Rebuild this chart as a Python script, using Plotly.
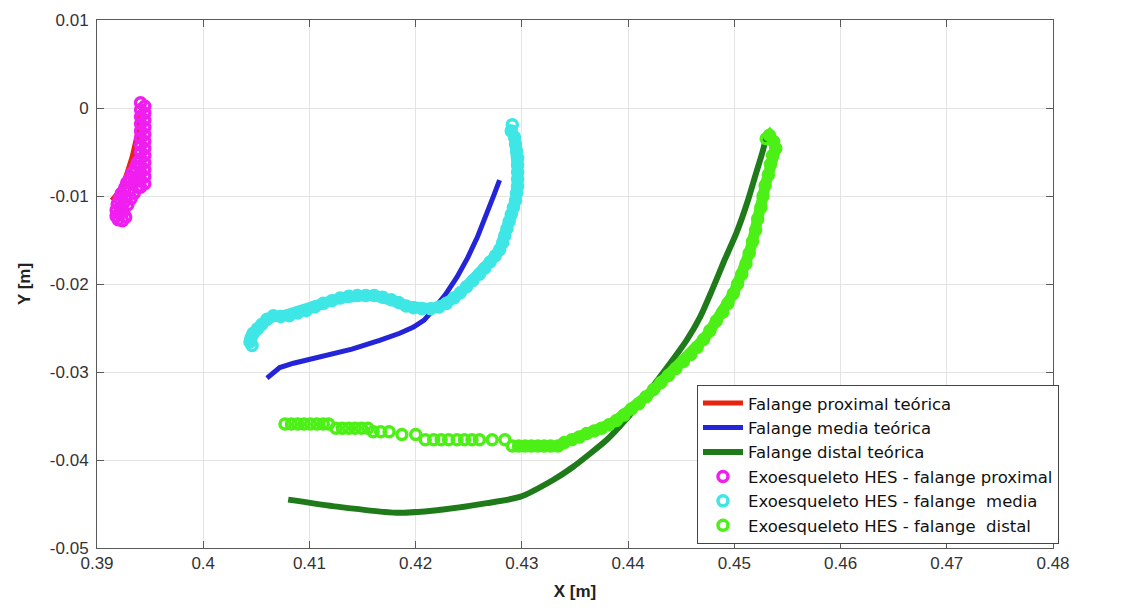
import plotly.graph_objects as go

# ---------------- datos ----------------
# Falange proximal teorica (linea roja)
prox_teo_x = [0.3914, 0.3924, 0.3933, 0.3938, 0.3941]
prox_teo_y = [-0.0105, -0.0090, -0.0056, -0.0030, -0.0003]

# Falange media teorica (linea azul)
media_teo_x = [0.4060, 0.4072, 0.4085, 0.4100, 0.4119, 0.4140, 0.4166, 0.4185, 0.4198,
               0.4208, 0.4216, 0.4228, 0.4239, 0.4249, 0.4258, 0.4266, 0.4273, 0.4279]
media_teo_y = [-0.0307, -0.0295, -0.0290, -0.0286, -0.0281, -0.0274, -0.0264, -0.0256, -0.0249,
               -0.0241, -0.0230, -0.0212, -0.0192, -0.0170, -0.0147, -0.0124, -0.0101, -0.0082]

# Falange distal teorica (linea verde oscuro)
distal_teo_x = [0.4080, 0.4126, 0.4182, 0.4220, 0.4267, 0.4298, 0.4329, 0.4348, 0.4380, 0.4392,
                0.4411, 0.4442, 0.4455, 0.4468, 0.4479, 0.4490, 0.4502, 0.4512, 0.4520, 0.4527,
                0.4531]
distal_teo_y = [-0.0445, -0.0453, -0.0460, -0.0457, -0.0449, -0.0442, -0.0423, -0.0408, -0.0377, -0.0362,
                -0.0335, -0.0286, -0.0264, -0.0237, -0.0207, -0.0175, -0.0142, -0.0108, -0.0076, -0.0048,
                -0.0028]

# Exoesqueleto HES - falange proximal (magenta)
hes_prox_x = [0.3941, 0.3945, 0.3941, 0.3945, 0.3941, 0.3945, 0.3941, 0.3945, 0.3941, 0.3945,
              0.3941, 0.3945, 0.3941, 0.3945, 0.3941, 0.3945, 0.3941, 0.3945, 0.3941, 0.3945,
              0.3941, 0.3945, 0.3941, 0.3945, 0.3941,
              0.3938, 0.3936, 0.3933, 0.3937, 0.3931, 0.3928, 0.3934, 0.3938, 0.3926, 0.3930,
              0.3935, 0.3923, 0.3927, 0.3932, 0.3921, 0.3925, 0.3919, 0.3923, 0.3918, 0.3921,
              0.3918, 0.3920, 0.3924, 0.3927, 0.3925, 0.3929]
hes_prox_y = [0.0006, 0.0002, -0.0002, -0.0006, -0.0010, -0.0014, -0.0018, -0.0022, -0.0026, -0.0030,
              -0.0034, -0.0038, -0.0042, -0.0046, -0.0050, -0.0054, -0.0058, -0.0062, -0.0066, -0.0070,
              -0.0074, -0.0078, -0.0082, -0.0086, -0.0090,
              -0.0062, -0.0068, -0.0074, -0.0078, -0.0080, -0.0085, -0.0086, -0.0090, -0.0091, -0.0094,
              -0.0097, -0.0097, -0.0101, -0.0103, -0.0103, -0.0108, -0.0109, -0.0114, -0.0116, -0.0120,
              -0.0123, -0.0127, -0.0128, -0.0124, -0.0118, -0.0110]

# Exoesqueleto HES - falange media (cian)
hes_media_x = [0.4291, 0.4290, 0.4293, 0.4294, 0.4295, 0.4296, 0.4296, 0.4296, 0.4296, 0.4296,
               0.4295, 0.4294, 0.4292, 0.4290, 0.4288, 0.4286, 0.4284, 0.4282, 0.4279, 0.4275,
               0.4270, 0.4265, 0.4260, 0.4254, 0.4248, 0.4242, 0.4236, 0.4229, 0.4222, 0.4214,
               0.4206, 0.4198, 0.4191, 0.4184, 0.4177, 0.4169, 0.4161, 0.4153, 0.4145, 0.4137,
               0.4129, 0.4121, 0.4113, 0.4105, 0.4097, 0.4089, 0.4081, 0.4073, 0.4066, 0.4060,
               0.4055, 0.4051, 0.4047, 0.4045, 0.4044, 0.4046]
hes_media_y = [-0.0019, -0.0026, -0.0033, -0.0041, -0.0049, -0.0057, -0.0065, -0.0073, -0.0081, -0.0089,
               -0.0097, -0.0105, -0.0113, -0.0121, -0.0129, -0.0137, -0.0145, -0.0153, -0.0161, -0.0168,
               -0.0175, -0.0182, -0.0189, -0.0196, -0.0203, -0.0210, -0.0216, -0.0222, -0.0226, -0.0228,
               -0.0228, -0.0227, -0.0225, -0.0221, -0.0218, -0.0215, -0.0213, -0.0213, -0.0213, -0.0214,
               -0.0216, -0.0219, -0.0222, -0.0226, -0.0230, -0.0233, -0.0236, -0.0237, -0.0236, -0.0240,
               -0.0246, -0.0251, -0.0256, -0.0261, -0.0266, -0.0270]

# Exoesqueleto HES - falange distal (verde claro): tramo horizontal con huecos + tramo continuo
hes_dist_x = [0.4077, 0.4083, 0.4089, 0.4095, 0.4101, 0.4107, 0.4113, 0.4118,
              0.4125, 0.4131, 0.4137, 0.4143, 0.4149, 0.4155,
              0.4160, 0.4167, 0.4175,
              0.4187, 0.4200,
              0.4209, 0.4217, 0.4224, 0.4231, 0.4239, 0.4246, 0.4253, 0.4260,
              0.4272, 0.4284,
              0.4291, 0.4297, 0.4303, 0.4309, 0.4315, 0.4321, 0.4327, 0.4334,
              0.4340, 0.4347, 0.4354, 0.4361, 0.4368, 0.4375, 0.4382, 0.4389, 0.4396, 0.4403,
              0.4410, 0.4417, 0.4424, 0.4431, 0.4438, 0.4445, 0.4452, 0.4459, 0.4465, 0.4471,
              0.4477, 0.4483, 0.4489, 0.4494, 0.4499, 0.4503, 0.4507, 0.4511, 0.4514, 0.4517,
              0.4520, 0.4522, 0.4525, 0.4527, 0.4529, 0.4532, 0.4534, 0.4536, 0.4539, 0.4537,
              0.4533, 0.4530]
hes_dist_y = [-0.0359, -0.0359, -0.0359, -0.0359, -0.0359, -0.0359, -0.0359, -0.0359,
              -0.0364, -0.0364, -0.0364, -0.0364, -0.0364, -0.0364,
              -0.0368, -0.0368, -0.0368,
              -0.0371, -0.0371,
              -0.0377, -0.0377, -0.0377, -0.0377, -0.0377, -0.0377, -0.0377, -0.0377,
              -0.0377, -0.0377,
              -0.0384, -0.0384, -0.0384, -0.0384, -0.0384, -0.0384, -0.0384, -0.0384,
              -0.0380, -0.0377, -0.0374, -0.0370, -0.0367, -0.0364, -0.0360, -0.0355, -0.0349, -0.0342,
              -0.0336, -0.0328, -0.0320, -0.0312, -0.0304, -0.0296, -0.0288, -0.0280, -0.0272, -0.0263,
              -0.0253, -0.0242, -0.0232, -0.0222, -0.0211, -0.0200, -0.0189, -0.0177, -0.0165, -0.0152,
              -0.0139, -0.0126, -0.0113, -0.0100, -0.0088, -0.0076, -0.0064, -0.0054, -0.0046, -0.0038,
              -0.0031, -0.0035]
DIST_BAND_START = 29  # desde aqui el rastro es continuo

x_ticks = [0.39, 0.40, 0.41, 0.42, 0.43, 0.44, 0.45, 0.46, 0.47, 0.48]
x_ticktext = ["0.39", "0.4", "0.41", "0.42", "0.43", "0.44", "0.45", "0.46", "0.47", "0.48"]
y_ticks = [0.01, 0.0, -0.01, -0.02, -0.03, -0.04, -0.05]
y_ticktext = ["0.01", "0", "-0.01", "-0.02", "-0.03", "-0.04", "-0.05"]

# ---------------- colores ----------------
C_RED = "#e8230e"
C_BLUE = "#2424d8"
C_DKGREEN = "#1f7a1a"
C_MAGENTA = "#f01ef0"
C_CYAN = "#3fe6e6"
C_GREEN = "#4cf016"

FONT = "Liberation Sans, Arial, sans-serif"

fig = go.Figure()

# lineas teoricas
fig.add_trace(go.Scatter(x=prox_teo_x, y=prox_teo_y, mode="lines",
                         line=dict(color=C_RED, width=5), name="Falange proximal teórica",
                         legendrank=1))
fig.add_trace(go.Scatter(x=media_teo_x, y=media_teo_y, mode="lines",
                         line=dict(color=C_BLUE, width=5), name="Falange media teórica",
                         legendrank=2))
fig.add_trace(go.Scatter(x=distal_teo_x, y=distal_teo_y, mode="lines",
                         line=dict(color=C_DKGREEN, width=6, shape="spline", smoothing=0.6),
                         name="Falange distal teórica", legendrank=3))

# bandas de fondo para que el rastro de circulos se vea continuo
fig.add_trace(go.Scatter(x=hes_media_x, y=hes_media_y, mode="lines",
                         line=dict(color=C_CYAN, width=11), showlegend=False, hoverinfo="skip"))
fig.add_trace(go.Scatter(x=hes_dist_x[DIST_BAND_START:], y=hes_dist_y[DIST_BAND_START:], mode="lines",
                         line=dict(color=C_GREEN, width=11), showlegend=False, hoverinfo="skip"))

ring = dict(symbol="circle-open", size=10)
fig.add_trace(go.Scatter(x=hes_prox_x, y=hes_prox_y, mode="markers",
                         marker=dict(**ring, color=C_MAGENTA, line=dict(width=3.5)),
                         name="Exoesqueleto HES - falange proximal", legendrank=4))
fig.add_trace(go.Scatter(x=hes_media_x, y=hes_media_y, mode="markers",
                         marker=dict(**ring, color=C_CYAN, line=dict(width=3.5)),
                         name="Exoesqueleto HES - falange  media", legendrank=5))
fig.add_trace(go.Scatter(x=hes_dist_x, y=hes_dist_y, mode="markers",
                         marker=dict(**ring, color=C_GREEN, line=dict(width=3.5)),
                         name="Exoesqueleto HES - falange  distal", legendrank=6))

axis_common = dict(
    showgrid=True, gridcolor="#e4e4e4", gridwidth=1,
    showline=True, linecolor="#5a5a5a", linewidth=1, mirror="ticks",
    ticks="inside", ticklen=7, tickcolor="#5a5a5a",
    tickfont=dict(family=FONT, size=17, color="#333333"),
    zeroline=False, automargin=False,
)

fig.update_xaxes(range=[0.39, 0.48], tickvals=x_ticks, ticktext=x_ticktext,
                 title=dict(text="<b>X [m]</b>", font=dict(family=FONT, size=17, color="#222"),
                            standoff=12),
                 **axis_common)
fig.update_yaxes(range=[-0.05, 0.01], tickvals=y_ticks, ticktext=y_ticktext,
                 ticklabelstandoff=4,
                 title=dict(text="<b>Y [m]</b>", font=dict(family=FONT, size=17, color="#222"),
                            standoff=14),
                 **axis_common)

fig.update_layout(
    width=1128, height=610,
    margin=dict(l=89, r=83, t=12, b=70),
    paper_bgcolor="white", plot_bgcolor="white",
    showlegend=True,
    legend=dict(x=0.6276, y=0.309, xanchor="left", yanchor="top",
                bgcolor="white", bordercolor="#444444", borderwidth=1,
                font=dict(family="DejaVu Sans, sans-serif", size=16.5, color="#111111"),
                tracegroupgap=0, itemwidth=40),
)

fig.write_html("out.html")
